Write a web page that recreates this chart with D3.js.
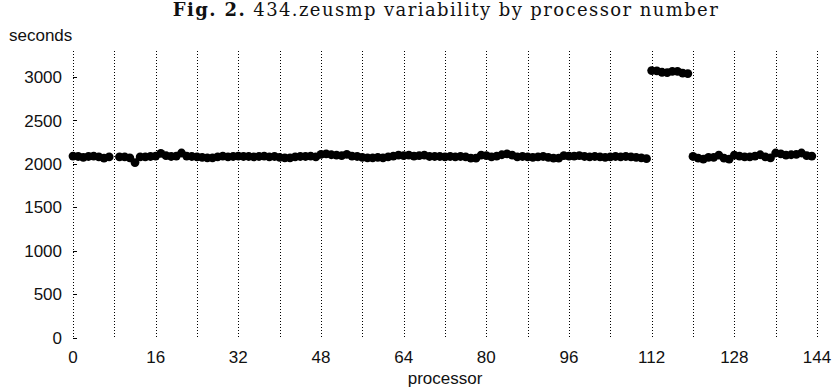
<!DOCTYPE html>
<html>
<head>
<meta charset="utf-8">
<script src="https://cdn.jsdelivr.net/npm/d3@7"></script>
<style>
  body { margin: 0; background: #fff; }
  svg { display: block; }
  .lbl { font-family: "Liberation Sans", Arial, sans-serif; font-size: 17px; fill: #111; }
  .ttl { font-family: "DejaVu Serif", "Liberation Serif", serif; font-size: 18px; letter-spacing: 1.4px; fill: #111; }
</style>
</head>
<body>
<svg id="chart"></svg>
<script>
// run time (seconds) per processor, null = no measurement
var processors = d3.range(0, 144);
var seconds = [
  2090, 2085, 2075, 2085, 2090, 2080, 2065, 2080, null, 2080,
  2080, 2070, 2015, 2080, 2080, 2085, 2090, 2120, 2095, 2085,
  2090, 2125, 2090, 2085, 2080, 2075, 2070, 2070, 2080, 2090,
  2080, 2085, 2090, 2085, 2085, 2080, 2085, 2090, 2080, 2085,
  2075, 2070, 2070, 2080, 2085, 2085, 2090, 2080, 2110, 2115,
  2105, 2100, 2095, 2110, 2090, 2085, 2075, 2070, 2070, 2075,
  2070, 2080, 2090, 2100, 2095, 2100, 2090, 2095, 2100, 2085,
  2085, 2085, 2080, 2085, 2080, 2085, 2080, 2065, 2065, 2100,
  2095, 2080, 2090, 2105, 2115, 2100, 2080, 2085, 2080, 2075,
  2080, 2085, 2075, 2065, 2065, 2095, 2090, 2090, 2095, 2085,
  2080, 2085, 2080, 2075, 2080, 2085, 2080, 2085, 2080, 2075,
  2070, 2060, 3075, 3070, 3055, 3050, 3065, 3065, 3045, 3040,
  2085, 2065, 2055, 2075, 2075, 2100, 2065, 2055, 2100, 2090,
  2080, 2080, 2090, 2105, 2080, 2070, 2125, 2115, 2100, 2105,
  2110, 2125, 2095, 2090
];
var xTicks = [0, 16, 32, 48, 64, 80, 96, 112, 128, 144];
var xGrid = d3.range(0, 145, 8);
var yTicks = [0, 500, 1000, 1500, 2000, 2500, 3000];

var width = 838, height = 389;
var svg = d3.select("#chart").attr("width", width).attr("height", height);

var x = d3.scaleLinear().domain([0, 144]).range([73, 817]);
var y = d3.scaleLinear().domain([0, 3300]).range([337.5, 51]);

// dotted verticals
svg.append("g").selectAll("line")
  .data(xGrid)
  .enter()
  .append("line")
  .attr("x1", function(d) { return Math.round(x(d)) + 0.5; })
  .attr("x2", function(d) { return Math.round(x(d)) + 0.5; })
  .attr("y1", y(3300))
  .attr("y2", y(0))
  .attr("stroke", "#000")
  .attr("stroke-width", 1)
  .attr("stroke-dasharray", "1,2");

// y ticks (short marks inside the frame)
var yAxis = svg.append("g");
yAxis.selectAll("line")
  .data(yTicks)
  .enter()
  .append("line")
  .attr("x1", x(0))
  .attr("x2", x(0) + 4)
  .attr("y1", function(d) { return Math.round(y(d)) + 0.5; })
  .attr("y2", function(d) { return Math.round(y(d)) + 0.5; })
  .attr("stroke", "#000");

yAxis.selectAll("text")
  .data(yTicks)
  .enter()
  .append("text")
  .attr("class", "lbl")
  .attr("x", 62)
  .attr("y", function(d) { return y(d); })
  .attr("dy", "0.36em")
  .attr("text-anchor", "end")
  .text(function(d) { return d; });

svg.append("g").selectAll("text")
  .data(xTicks)
  .enter()
  .append("text")
  .attr("class", "lbl")
  .attr("x", function(d) { return x(d); })
  .attr("y", 363)
  .attr("text-anchor", "middle")
  .text(function(d) { return d; });

svg.append("text")
  .attr("class", "lbl")
  .attr("x", x(72))
  .attr("y", 384)
  .attr("text-anchor", "middle")
  .text("processor");

svg.append("text")
  .attr("class", "lbl")
  .attr("x", 9)
  .attr("y", 41)
  .text("seconds");

var title = svg.append("text")
  .attr("class", "ttl")
  .attr("x", 446)
  .attr("y", 16)
  .attr("text-anchor", "middle");
title.append("tspan").attr("font-weight", "bold").text("Fig. 2.");
title.append("tspan").text(" 434.zeusmp variability by processor number");

// points
var pts = processors
  .map(function(p, i) { return { p: p, v: seconds[i] }; })
  .filter(function(d) { return d.v !== null; });

svg.append("g").selectAll("circle")
  .data(pts)
  .enter()
  .append("circle")
  .attr("cx", function(d) { return x(d.p); })
  .attr("cy", function(d) { return y(d.v); })
  .attr("r", 4.4)
  .attr("fill", "#000");
</script>
</body>
</html>
